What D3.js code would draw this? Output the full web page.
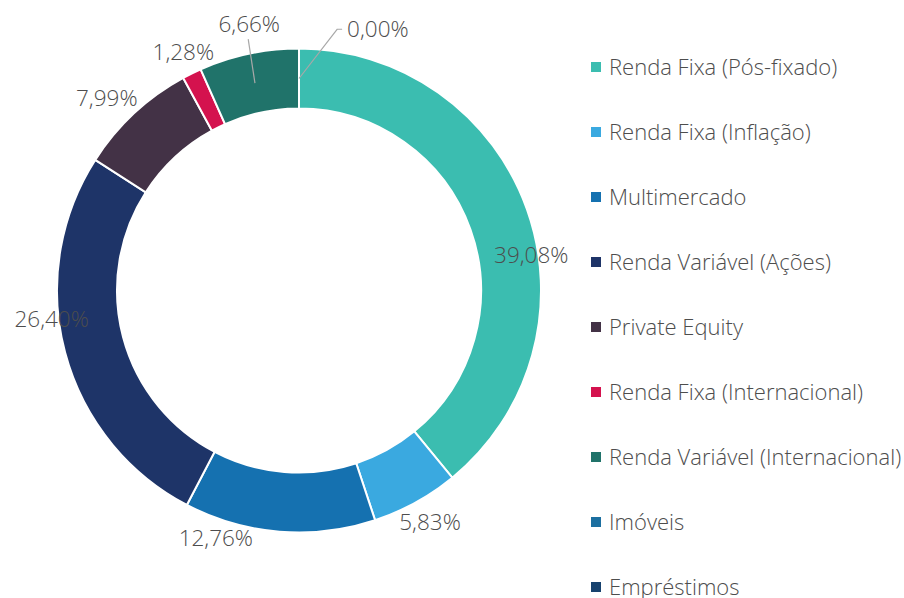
<!DOCTYPE html>
<html>
<head>
<meta charset="utf-8">
<script src="https://cdn.jsdelivr.net/npm/d3@7"></script>
<style>
  body { margin: 0; background: #fff; }
  text { font-family: "Open Sans", "Noto Sans", sans-serif; fill: #4d4d4d; font-weight: 300; }
</style>
</head>
<body>
<div id="chart"></div>
<script>
// categories and values (percent)
var categories = ["Renda Fixa (Pós-fixado)", "Renda Fixa (Inflação)", "Multimercado",
                  "Renda Variável (Ações)", "Private Equity", "Renda Fixa (Internacional)",
                  "Renda Variável (Internacional)", "Imóveis", "Empréstimos"];
var values = [39.08, 5.83, 12.76, 26.40, 7.99, 1.28, 6.66, 0.00, null];
var colors = ["#3bbdb0", "#3aa9e0", "#1571b0", "#1e3468", "#433246",
              "#d4124e", "#20736a", "#1c6fa0", "#17426e"];

// label placement tweaks (degrees added to mid angle, radius of label centre)
var labelAngleShift = [10.9, -0.7, 13.9, 8.3, -2, 0.4, 1.4, 8.3, 0];
var labelRadius = [235, 266, 261.5, 249, 272, 265, 271, 264, 0];

var width = 904, height = 598;
var cx = 299, cy = 290.5, outerR = 242, innerR = 182;

var svg = d3.select("#chart").append("svg")
    .attr("width", width)
    .attr("height", height);

var data = categories.map(function(c, i) {
  return {name: c, value: values[i], color: colors[i], idx: i};
});

var pie = d3.pie()
    .sort(null)
    .value(function(d) { return d.value || 0; });

var arc = d3.arc()
    .innerRadius(innerR)
    .outerRadius(outerR);

var arcs = pie(data);

var g = svg.append("g")
    .attr("transform", "translate(" + cx + "," + cy + ")");

// slices
g.selectAll(".slice")
    .data(arcs.filter(function(d) { return d.value > 0; }))
  .enter().append("path")
    .attr("class", "slice")
    .attr("d", arc)
    .attr("fill", function(d) { return d.data.color; })
    .attr("stroke", "#fff")
    .attr("stroke-width", 2);

function polar(angle, r) {
  return [Math.sin(angle) * r, -Math.cos(angle) * r];
}

var midR = (innerR + outerR) / 2;
var rad = Math.PI / 180;

// data labels
arcs.forEach(function(d, i) {
  if (d.data.value === null) return;
  var mid = (d.startAngle + d.endAngle) / 2;
  var fmt = d3.format(".2f")(d.data.value).replace(".", ",") + "%";
  var a = mid + labelAngleShift[i] * rad;
  var p = polar(a, labelRadius[i]);

  if (d.data.value === 0) {
    // zero slice: elbow connector out to the right
    var p0 = polar(mid, midR);
    var p2 = [p[0] + 5, p[1]];
    g.append("path")
      .attr("d", "M" + p0 + "L" + p + "L" + p2)
      .attr("fill", "none")
      .attr("stroke", "#a8a8a8")
      .attr("stroke-width", 1.2);
    g.append("text")
      .attr("x", p2[0] + 5)
      .attr("y", p2[1])
      .attr("dy", "0.35em")
      .style("font-size", "22.5px")
      .text(fmt);
    return;
  }

  if (d.data.name === "Renda Variável (Internacional)") {
    var c0 = polar(mid, midR);
    g.append("line")
      .attr("x1", c0[0]).attr("y1", c0[1])
      .attr("x2", p[0] - 1).attr("y2", p[1] + 15)
      .attr("stroke", "#a8a8a8")
      .attr("stroke-width", 1.2);
  }
  g.append("text")
    .attr("x", p[0])
    .attr("y", p[1])
    .attr("dy", "0.35em")
    .attr("text-anchor", "middle")
    .style("font-size", "22.5px")
    .text(fmt);
});

// legend
var legend = svg.append("g")
    .attr("transform", "translate(591,67)");

var item = legend.selectAll(".item")
    .data(data)
  .enter().append("g")
    .attr("class", "item")
    .attr("transform", function(d, i) { return "translate(0," + (i * 65) + ")"; });

item.append("rect")
    .attr("x", 0)
    .attr("y", -5)
    .attr("width", 10)
    .attr("height", 10)
    .attr("fill", function(d) { return d.color; });

item.append("text")
    .attr("x", 18)
    .attr("y", 0)
    .attr("dy", "0.35em")
    .style("font-size", "22px")
    .text(function(d) { return d.name; });
</script>
</body>
</html>
